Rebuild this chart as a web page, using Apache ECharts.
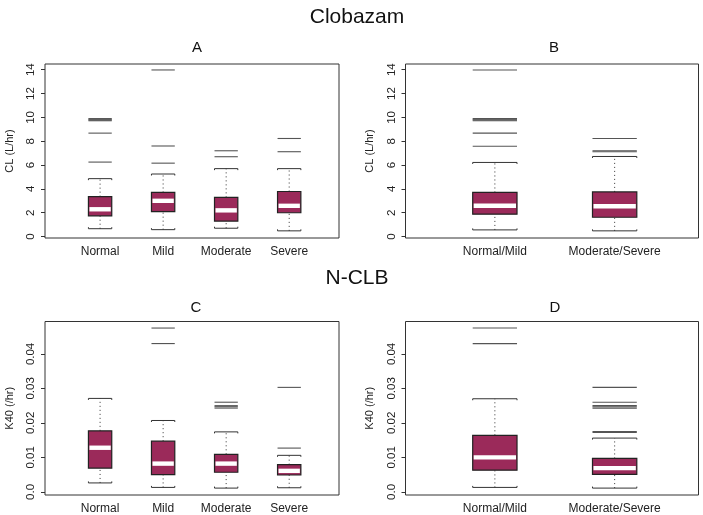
<!DOCTYPE html>
<html>
<head>
<meta charset="utf-8">
<script src="https://cdn.jsdelivr.net/npm/echarts@6/dist/echarts.min.js"></script>
<style>
  html, body { margin: 0; padding: 0; background: #fff; }
  #chart { width: 703px; height: 515px; }
</style>
</head>
<body>
<div id="chart"></div>
<script>
// categories
const catsSplit = ['Normal', 'Mild', 'Moderate', 'Severe'];
const catsPooled = ['Normal/Mild', 'Moderate/Severe'];

// boxes: [lower staple, Q1, median, Q3, upper staple]
const clSplit = [
    [0.66, 1.74, 2.29, 3.35, 4.86],
    [0.58, 2.10, 3.00, 3.70, 5.25],
    [0.70, 1.30, 2.20, 3.29, 5.70],
    [0.48, 2.00, 2.58, 3.78, 5.70]
];
const clSplitOut = [
    [6.25, 8.68, 9.72, 9.78, 9.84, 9.90],
    [6.16, 7.60, 13.98],
    [6.70, 7.20],
    [7.12, 8.23]
];
const clPooled = [
    [0.56, 1.88, 2.58, 3.70, 6.22],
    [0.48, 1.62, 2.55, 3.75, 6.72]
];
const clPooledOut = [
    [7.58, 8.68, 9.72, 9.78, 9.84, 9.90, 13.98],
    [7.12, 7.20, 8.23]
];
const k40Split = [
    [0.0026, 0.0069, 0.0128, 0.0177, 0.0271],
    [0.0013, 0.0050, 0.0082, 0.0147, 0.0207],
    [0.0011, 0.0057, 0.0082, 0.0109, 0.0174],
    [0.0012, 0.0049, 0.0061, 0.0079, 0.0106]
];
const k40SplitOut = [
    [],
    [0.0430, 0.0475],
    [0.0243, 0.0247, 0.0250, 0.0260],
    [0.0127, 0.0303]
];
const k40Pooled = [
    [0.0013, 0.0063, 0.0100, 0.0164, 0.0270],
    [0.0011, 0.0051, 0.0069, 0.0097, 0.0156]
];
const k40PooledOut = [
    [0.0430, 0.0475],
    [0.0172, 0.0175, 0.0243, 0.0247, 0.0250, 0.0260, 0.0303]
];

// tick labels
const clTicks = [0, 2, 4, 6, 8, 10, 12, 14];
const k40Ticks = [0, 0.01, 0.02, 0.03, 0.04];
const k40TickLabels = ['0.0', '0.01', '0.02', '0.03', '0.04'];

const FILL = '#9b2a5a';
const BOX_FRAC = 0.37;
const FONT = 'Liberation Sans, Arial, sans-serif';

let chart = echarts.init(document.getElementById('chart'));

function boxItem (params, api) {
    const x = api.value(0);
    const w = api.size([BOX_FRAC, 0])[0];
    const lo = api.coord([x, api.value(1)]);
    const q1 = api.coord([x, api.value(2)]);
    const md = api.coord([x, api.value(3)]);
    const q3 = api.coord([x, api.value(4)]);
    const hi = api.coord([x, api.value(5)]);
    const cx = lo[0];
    const x0 = cx - w / 2;
    const x1 = cx + w / 2;
    const dotted = { stroke: '#333', lineWidth: 1, lineDash: [1, 3] };
    const solid = { stroke: '#333', lineWidth: 1 };
    // staples with small end hooks pointing toward the box
    const staple = (y, d) => ({
        type: 'polyline',
        shape: { points: [[x0, y + d], [x0, y], [x1, y], [x1, y + d]] },
        style: Object.assign({ fill: null }, solid)
    });
    return {
        type: 'group',
        children: [
            { type: 'line', shape: { x1: cx, y1: q3[1], x2: cx, y2: hi[1] }, style: dotted },
            { type: 'line', shape: { x1: cx, y1: lo[1], x2: cx, y2: q1[1] }, style: dotted },
            staple(hi[1], 1.5),
            staple(lo[1], -1.5),
            { type: 'rect', shape: { x: x0, y: q3[1], width: w, height: q1[1] - q3[1] },
              style: { fill: FILL, stroke: '#222', lineWidth: 1.2 } },
            { type: 'rect', shape: { x: x0 + 1, y: md[1] - 2.2, width: w - 2, height: 4.4 },
              style: { fill: '#fff' } }
        ]
    };
}

function outItem (params, api) {
    const w = api.size([BOX_FRAC, 0])[0];
    const p = api.coord([api.value(0), api.value(1)]);
    return {
        type: 'line',
        shape: { x1: p[0] - w / 2, y1: p[1], x2: p[0] + w / 2, y2: p[1] },
        style: { stroke: '#555', lineWidth: 1.1 }
    };
}

function boxData (rows) {
    return rows.map((r, i) => [i + 1].concat(r));
}
function outData (rows) {
    let out = [];
    rows.forEach((r, i) => r.forEach(v => out.push([i + 1, v])));
    return out;
}

const grids = [
    { left: 45, top: 64, width: 294, height: 174 },
    { left: 405.5, top: 64, width: 293, height: 174 },
    { left: 45, top: 321.5, width: 294, height: 174 },
    { left: 405.5, top: 321.5, width: 293, height: 174 }
].map(g => Object.assign(g, { show: true, borderColor: '#333', borderWidth: 1, backgroundColor: 'transparent' }));

function xAxisFor (idx, cats, min, max) {
    return {
        type: 'value', gridIndex: idx, min: min, max: max,
        axisLine: { show: false }, axisTick: { show: false }, splitLine: { show: false },
        axisLabel: {
            customValues: cats.map((c, i) => i + 1),
            formatter: v => cats[Math.round(v) - 1] || '',
            color: '#222', fontSize: 12, fontFamily: FONT, margin: 8
        }
    };
}

function yAxisFor (idx, name, min, max, ticks, labels) {
    return {
        type: 'value', gridIndex: idx, min: min, max: max,
        name: name, nameLocation: 'middle', nameGap: 30,
        nameTextStyle: { color: '#222', fontSize: 11, fontFamily: FONT },
        axisLine: { show: false }, splitLine: { show: false },
        axisTick: { show: true, length: 4, customValues: ticks, lineStyle: { color: '#333' } },
        axisLabel: {
            customValues: ticks, rotate: 90, margin: 8,
            formatter: v => labels ? labels[ticks.indexOf(v)] : String(v),
            color: '#222', fontSize: 11.5, fontFamily: FONT
        }
    };
}

const titleStyle = (size) => ({ color: '#111', fontSize: size, fontWeight: 'normal', fontFamily: FONT });

const option = {
    animation: false,
    title: [
        { text: 'Clobazam', left: 352, top: 2, textAlign: 'center', textStyle: titleStyle(21) },
        { text: 'A', left: 192, top: 35, textAlign: 'center', textStyle: titleStyle(15) },
        { text: 'B', left: 549, top: 35, textAlign: 'center', textStyle: titleStyle(15) },
        { text: 'N-CLB', left: 352, top: 263, textAlign: 'center', textStyle: titleStyle(21) },
        { text: 'C', left: 191, top: 295, textAlign: 'center', textStyle: titleStyle(15) },
        { text: 'D', left: 550, top: 295, textAlign: 'center', textStyle: titleStyle(15) }
    ],
    grid: grids,
    xAxis: [
        xAxisFor(0, catsSplit, 0.126, 4.79),
        xAxisFor(1, catsPooled, 0.254, 2.70),
        xAxisFor(2, catsSplit, 0.126, 4.79),
        xAxisFor(3, catsPooled, 0.254, 2.70)
    ],
    yAxis: [
        yAxisFor(0, 'CL (L/hr)', -0.12, 14.48, clTicks),
        yAxisFor(1, 'CL (L/hr)', -0.12, 14.48, clTicks),
        yAxisFor(2, 'K40 (/hr)', -0.0009, 0.0494, k40Ticks, k40TickLabels),
        yAxisFor(3, 'K40 (/hr)', -0.0009, 0.0494, k40Ticks, k40TickLabels)
    ],
    series: [
        [clSplit, clSplitOut], [clPooled, clPooledOut],
        [k40Split, k40SplitOut], [k40Pooled, k40PooledOut]
    ].flatMap((pair, i) => [
        { type: 'custom', xAxisIndex: i, yAxisIndex: i, renderItem: outItem, data: outData(pair[1]) },
        { type: 'custom', xAxisIndex: i, yAxisIndex: i, renderItem: boxItem, data: boxData(pair[0]) }
    ])
};

chart.setOption(option);

window.addEventListener('resize', function () {
    chart.resize();
});
</script>
</body>
</html>
